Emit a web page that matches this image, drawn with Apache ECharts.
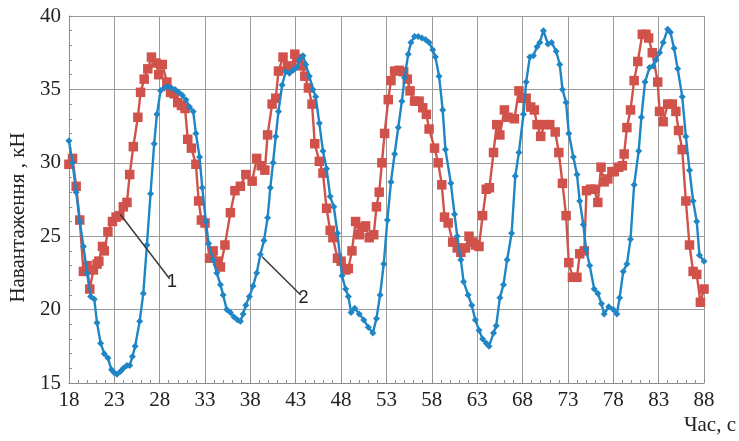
<!DOCTYPE html>
<html>
<head>
<meta charset="utf-8">
<script src="https://cdn.jsdelivr.net/npm/echarts@6/dist/echarts.min.js"></script>
<style>html,body{margin:0;padding:0;background:#fff;}#c{width:739px;height:441px;}</style>
</head>
<body>
<div id="c"></div>
<script>
// Curve 2 (blue, diamonds): time, s and load, kN
const timeBlue = [18.0,18.4,18.8,19.2,19.6,20.0,20.4,20.8,21.1,21.5,21.9,22.3,22.7,23.0,23.3,23.7,24.0,24.4,24.7,25.0,25.3,25.8,26.2,26.6,27.0,27.4,27.7,28.1,28.5,28.9,29.3,29.7,30.1,30.5,30.9,31.3,31.7,32.0,32.4,32.7,33.1,33.4,33.9,34.3,34.7,35.0,35.4,35.8,36.2,36.6,36.9,37.2,37.5,37.9,38.3,38.7,39.1,39.5,39.9,40.2,40.5,40.8,41.1,41.5,41.9,42.3,42.7,43.1,43.4,43.8,44.1,44.5,44.9,45.2,45.6,46.0,46.4,46.8,47.2,47.6,48.1,48.5,48.8,49.1,49.5,50.0,50.5,51.0,51.5,51.9,52.3,52.7,53.1,53.5,53.9,54.3,54.7,55.0,55.4,55.7,56.1,56.5,56.9,57.3,57.7,58.1,58.4,58.8,59.2,59.5,60.1,60.5,60.8,61.2,61.5,62.0,62.4,62.8,63.2,63.6,64.0,64.3,64.8,65.1,65.5,65.9,66.3,66.8,67.2,67.6,68.1,68.4,68.8,69.2,69.6,69.9,70.3,70.8,71.2,71.7,72.1,72.4,72.8,73.1,73.6,74.0,74.3,74.7,75.0,75.4,75.9,76.3,76.7,77.0,77.5,78.0,78.4,78.7,79.1,79.5,79.9,80.3,80.8,81.1,81.5,82.0,82.4,82.7,83.1,83.5,84.0,84.3,84.7,85.1,85.6,86.0,86.4,86.8,87.2,87.5,88.0];
const loadBlue = [31.5,30.0,28.0,26.0,24.3,22.5,20.9,20.7,19.1,17.7,17.0,16.7,15.9,15.7,15.6,15.8,16.0,16.2,16.2,16.8,17.5,19.2,21.1,24.4,27.9,31.3,33.3,34.9,35.1,35.2,35.1,35.0,34.8,34.6,34.3,33.8,33.5,32.0,30.4,28.3,26.0,24.5,23.4,22.5,21.7,21.0,20.0,19.8,19.5,19.3,19.2,19.7,20.3,20.9,21.6,22.5,23.75,24.7,26.25,28.3,30.0,31.8,33.5,35.3,36.2,36.1,36.3,36.5,37.0,37.3,36.7,35.9,35.0,34.5,32.7,30.8,29.6,27.7,27.0,25.2,22.3,21.4,20.9,19.8,20.1,19.7,19.3,18.8,18.4,19.4,21.0,23.1,26.1,28.7,30.6,32.4,34.2,35.8,37.4,38.2,38.6,38.6,38.5,38.4,38.2,37.7,37.2,35.9,33.6,30.9,28.6,26.5,25.0,23.4,21.9,21.0,20.3,19.3,18.6,18.0,17.7,17.5,18.4,18.9,20.8,21.7,23.4,25.2,29.1,30.7,33.3,35.5,37.2,37.3,37.9,38.2,39.0,38.1,38.2,37.6,36.7,35.0,34.1,32.0,30.4,29.2,27.4,25.8,24.1,23.0,21.4,21.1,20.4,19.7,20.2,20.0,19.7,20.8,22.6,23.1,24.8,28.5,30.8,33.1,35.5,36.5,36.6,37.0,37.5,38.2,39.1,38.9,37.8,36.4,34.5,31.8,29.5,27.4,26.0,23.7,23.3];
// Curve 1 (red, squares)
const timeRed = [18.0,18.4,18.8,19.2,19.6,20.0,20.3,20.7,21.1,21.3,21.7,21.9,22.3,22.8,23.2,23.6,24.0,24.4,24.7,25.1,25.6,25.9,26.3,26.7,27.1,27.6,27.9,28.3,28.8,29.2,29.6,30.0,30.4,30.8,31.1,31.5,32.0,32.3,32.6,33.0,33.5,33.9,34.4,34.7,35.2,35.8,36.3,36.9,37.5,38.2,38.7,39.2,39.6,39.9,40.4,40.8,41.1,41.6,42.1,42.5,42.9,43.3,43.7,44.0,44.4,44.8,45.1,45.6,46.0,46.4,46.8,47.1,47.6,48.0,48.5,48.8,49.2,49.6,50.0,50.3,50.7,51.1,51.6,51.9,52.2,52.5,52.8,53.2,53.5,53.9,54.4,54.9,55.3,55.6,56.1,56.6,57.0,57.4,57.7,58.3,58.7,59.1,59.4,59.8,60.3,60.8,61.2,61.7,62.1,62.5,62.8,63.2,63.6,64.0,64.35,64.8,65.15,65.5,66.0,66.4,67.1,67.6,67.9,68.4,68.9,69.3,69.6,70.0,70.4,71.0,71.6,72.0,72.4,72.8,73.1,73.5,74.0,74.3,74.8,75.05,75.5,75.9,76.3,76.65,77.0,77.4,77.85,78.1,78.6,79.0,79.2,79.5,79.9,80.3,80.7,81.2,81.6,81.9,82.3,82.9,83.1,83.5,84.0,84.5,84.9,85.2,85.6,86.0,86.4,86.8,87.2,87.6,88.0];
const loadRed = [29.9,30.3,28.4,26.1,22.6,23.0,21.4,22.7,23.1,23.3,24.3,24.0,25.3,26.0,26.3,26.4,27.0,27.3,29.2,31.1,33.1,34.8,35.7,36.4,37.2,36.8,36.0,36.7,35.5,34.8,34.7,34.1,33.9,33.7,31.6,31.0,29.9,27.4,26.1,25.9,23.5,24.0,23.3,22.9,24.4,26.6,28.1,28.4,29.2,28.75,30.3,29.8,29.5,31.9,34.0,34.4,36.25,37.2,36.6,36.5,37.4,37.1,36.6,35.9,35.1,34.0,31.3,30.1,29.3,26.9,25.4,24.9,23.5,23.3,22.7,22.8,24.0,26.0,25.1,25.6,25.7,24.9,25.1,27.0,28.0,30.0,32.0,34.3,35.6,36.25,36.3,36.2,35.7,34.9,34.2,34.2,33.75,33.3,32.3,31.0,30.0,28.5,26.3,25.9,24.6,24.2,23.9,24.2,25.0,24.6,24.4,24.3,26.4,28.2,28.3,30.7,32.6,31.9,33.6,33.1,33.0,34.9,34.4,34.4,33.8,33.6,32.6,31.8,32.6,32.6,32.1,30.7,28.6,26.4,23.2,22.2,22.2,23.8,24.0,28.1,28.2,28.2,27.3,29.7,28.7,28.9,29.4,29.4,29.7,29.8,30.6,32.4,33.6,35.6,36.9,38.75,38.75,38.5,37.5,35.5,33.5,32.8,34.0,34.0,33.5,32.2,30.9,27.4,24.4,22.6,22.4,20.5,21.4];
// Axis ticks
const xTicks = [18,23,28,33,38,43,48,53,58,63,68,73,78,83,88];
const yTicks = [15,20,25,30,35,40];
// Leader lines for curve labels: [t1, v1, t2, v2]
const leader1 = [23.66, 26.5, 29.1, 22.1];
const leader2 = [39.3, 23.6, 43.55, 21.0];

const zip = (a, b) => a.map((t, i) => [t, b[i]]);
const serif = '"Liberation Serif","DejaVu Serif",serif';
const chart = echarts.init(document.getElementById('c'), null, {renderer: 'canvas'});
const leaderLine = (l, txt) => ({
  silent: true,
  symbol: ['none', 'none'],
  animation: false,
  lineStyle: {color: '#3a3a3a', width: 1.5, type: 'solid'},
  label: {show: true, position: 'end', formatter: txt, color: '#222', fontSize: 18,
          fontFamily: '"Liberation Sans",Arial,sans-serif', distance: 4},
  emphasis: {disabled: true},
  data: [[{coord: [l[0], l[1]]}, {coord: [l[2], l[3]]}]]
});
chart.setOption({
  animation: false,
  backgroundColor: '#ffffff',
  grid: {left: 65, right: 35, top: 16, bottom: 58, containLabel: false},
  xAxis: {
    type: 'value', min: xTicks[0], max: xTicks[xTicks.length - 1], interval: 5,
    axisLine: {show: true, lineStyle: {color: '#8c8c8c', width: 1}},
    axisTick: {show: true, inside: true, length: 4, lineStyle: {color: '#8c8c8c'}},
    minorTick: {show: true, splitNumber: 5, length: 3, lineStyle: {color: '#8c8c8c'}},
    splitLine: {show: true, lineStyle: {color: '#999999', width: 1}},
    axisLabel: {color: '#222', fontSize: 21, fontFamily: serif, margin: 7,
                customValues: xTicks, showMinLabel: true, showMaxLabel: true}
  },
  yAxis: {
    type: 'value', min: yTicks[0], max: yTicks[yTicks.length - 1], interval: 5,
    name: 'Навантаження , кН', nameLocation: 'middle', nameGap: 36,
    nameTextStyle: {color: '#222', fontSize: 21, fontFamily: serif, padding: [0, 36, 0, 0]},
    axisLine: {show: true, lineStyle: {color: '#8c8c8c', width: 1}},
    axisTick: {show: true, inside: true, length: 4, lineStyle: {color: '#8c8c8c'}},
    minorTick: {show: true, splitNumber: 5, length: 3, lineStyle: {color: '#8c8c8c'}},
    splitLine: {show: true, lineStyle: {color: '#999999', width: 1}},
    axisLabel: {color: '#222', fontSize: 21, fontFamily: serif, margin: 8}
  },
  graphic: [{
    type: 'text', right: 3, bottom: 5,
    style: {text: 'Час, с', font: '21px ' + serif, fill: '#222'}
  }],
  series: [
    {
      name: '2', type: 'line', data: zip(timeBlue, loadBlue),
      symbol: 'diamond', symbolSize: 7, showSymbol: true,
      lineStyle: {color: '#1f86c6', width: 2.4},
      itemStyle: {color: '#1f86c6'},
      z: 3,
      markLine: leaderLine(leader2, '2')
    },
    {
      name: '1', type: 'line', data: zip(timeRed, loadRed),
      symbol: 'rect', symbolSize: 9.5, showSymbol: true,
      lineStyle: {color: '#d0524b', width: 2.4},
      itemStyle: {color: '#d0524b'},
      z: 2,
      markLine: leaderLine(leader1, '1')
    }
  ]
});
</script>
</body>
</html>
